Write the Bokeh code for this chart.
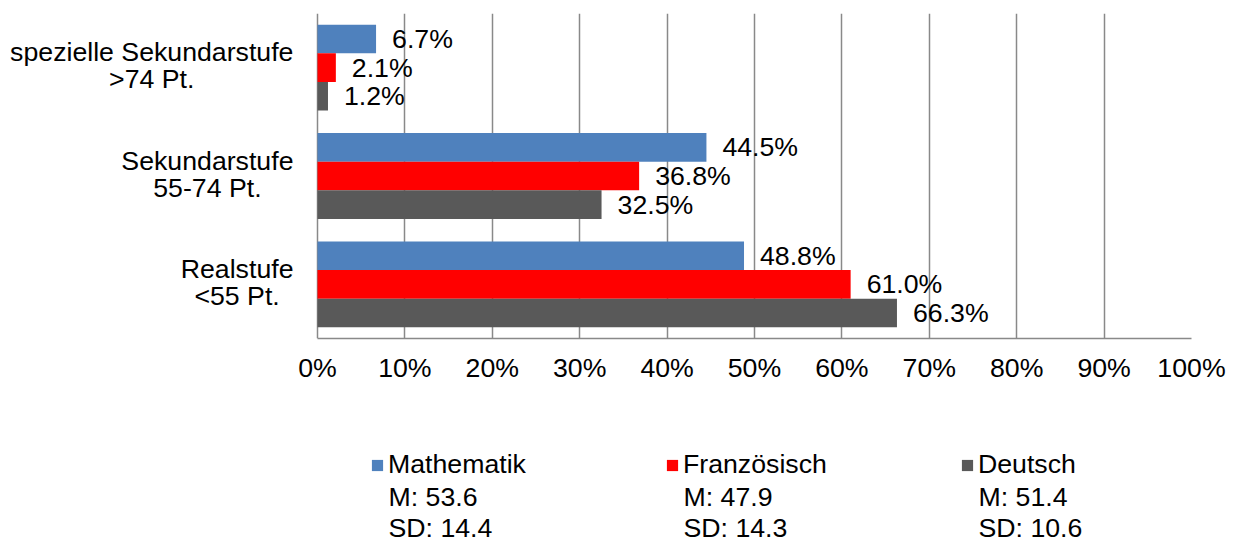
from bokeh.plotting import figure
from bokeh.models import (ColumnDataSource, FactorRange, Range1d, FixedTicker,
                          PrintfTickFormatter, Legend, LegendItem)
from bokeh.layouts import column
from bokeh.transform import dodge
from bokeh.core.properties import value
from bokeh.embed import file_html
from bokeh.resources import INLINE

# ---- data ----
categories = ["Realstufe\n<55 Pt.", "Sekundarstufe\n55-74 Pt.", "spezielle Sekundarstufe\n>74 Pt."]
series = ["Mathematik", "Französisch", "Deutsch"]
mathematik = [48.8, 44.5, 6.7]
franzoesisch = [61.0, 36.8, 2.1]
deutsch = [66.3, 32.5, 1.2]
means = [53.6, 47.9, 51.4]
sds = [14.4, 14.3, 10.6]
x_ticks = list(range(0, 101, 10))

# ---- style ----
colors = ["#4F81BD", "#FF0000", "#595959"]
FONT = "Liberation Sans"
FS_PX = 26.7
FS = "%.1fpx" % FS_PX
GRID = "#898989"

# Arial/Liberation Sans advance widths (1/1000 em) to size the category label blocks
ADV = {" ": 278, "S": 667, "e": 556, "k": 500, "u": 556, "n": 556, "d": 556, "a": 556,
       "r": 333, "s": 500, "t": 278, "f": 278, "p": 556, "z": 500, "i": 222, "l": 222,
       "R": 722, "P": 667, ">": 584, "<": 584, ".": 278, "-": 333}


def text_w(line):
    return sum(ADV.get(ch, 556) for ch in line) * FS_PX / 1000.0


W = 1240
H1, H2 = 400, 141
FRAME_L, FRAME_R, FRAME_T, FRAME_B = 317, 1191, 13, 338   # pixel frame of the 0..100 % area
x_lo = x_ticks[0] - (x_ticks[-1] - x_ticks[0]) * FRAME_L / (FRAME_R - FRAME_L)

p = figure(width=W, height=H1, output_backend="svg", toolbar_location=None,
           y_range=FactorRange(factors=categories, range_padding=0),
           x_range=Range1d(x_lo, x_ticks[-1]),
           min_border_left=0, min_border_right=W - FRAME_R, min_border_top=FRAME_T,
           min_border_bottom=H1 - FRAME_B, outline_line_color=None)

bar_h = 0.264
offsets = [bar_h, 0.0, -bar_h]
vals = [mathematik, franzoesisch, deutsch]
renderers = []
for name, v, off, c in zip(series, vals, offsets, colors):
    src = ColumnDataSource(dict(cat=categories, val=v,
                                lbl=["%.1f%%" % x for x in v]))
    r = p.hbar(y=dodge("cat", off, range=p.y_range), right="val", left=0,
               height=bar_h, source=src, fill_color=c, line_color=None)
    renderers.append(r)
    p.text(x="val", y=dodge("cat", off, range=p.y_range), text="lbl", source=src,
           x_offset=16, text_align="left", text_baseline="middle",
           text_font=value(FONT), text_font_size=value(FS), text_color="#000000")

# category labels: right-aligned block next to the 0 % line, lines centred in the block
STANDOFF = 24
cat_src = ColumnDataSource(dict(
    cat=categories,
    x0=[x_ticks[0]] * len(categories),
    xoff=[-(STANDOFF + max(text_w(l) for l in c.split("\n")) / 2.0) for c in categories],
))
p.text(x="x0", y="cat", text="cat", x_offset="xoff", y_offset=-2, source=cat_src,
       text_align="center", text_baseline="middle", text_line_height=0.9,
       text_font=value(FONT), text_font_size=value(FS), text_color="#000000")

# axes
p.yaxis.visible = False
p.xaxis.ticker = FixedTicker(ticks=x_ticks)
p.xaxis.bounds = (x_ticks[0], x_ticks[-1])
p.xaxis.formatter = PrintfTickFormatter(format="%d%%")
p.xaxis.major_tick_line_color = None
p.xaxis.minor_tick_line_color = None
p.xaxis.axis_line_color = GRID
p.xaxis.axis_line_width = 1.5
p.xaxis.major_label_text_font = FONT
p.xaxis.major_label_text_font_size = FS
p.xaxis.major_label_text_color = "#000000"
p.xaxis.major_label_standoff = 8

p.xgrid.ticker = FixedTicker(ticks=x_ticks)
p.xgrid.grid_line_color = GRID
p.xgrid.grid_line_width = 1.5
p.ygrid.grid_line_color = None

# ---- legend (own strip below the chart; pixel coordinates) ----
LEG_X0, ITEM_W, GLYPH, STANDOFF_L = 370, 295, 14, 4
lg = figure(width=W, height=H2, output_backend="svg", toolbar_location=None,
            x_range=Range1d(0, FRAME_R), y_range=Range1d(0, H2),
            x_axis_type=None, y_axis_type=None, outline_line_color=None,
            min_border_left=0, min_border_right=W - FRAME_R, min_border_top=0, min_border_bottom=0)
lg.grid.visible = False
items = []
for name, c in zip(series, colors):
    r = lg.hbar(y=[0], left=[0], right=[0], height=0, fill_color=c, line_color=None,
                visible=False)
    items.append(LegendItem(label=name, renderers=[r]))
NAME_Y = 76     # centre of the first legend line, from the strip's bottom
LINE_H = 31
legend = Legend(items=items, orientation="horizontal", location=(LEG_X0, NAME_Y - 15),
                glyph_width=GLYPH, glyph_height=GLYPH, label_standoff=STANDOFF_L,
                label_width=ITEM_W - GLYPH - STANDOFF_L, spacing=0,
                padding=0, margin=0, border_line_color=None, background_fill_alpha=0,
                inactive_fill_alpha=0,
                label_text_font=FONT, label_text_font_size=FS, label_text_color="#000000")
lg.add_layout(legend, "center")

stat_x = [LEG_X0 + i * ITEM_W + GLYPH + STANDOFF_L for i in range(len(series))]
stat_src = ColumnDataSource(dict(
    x=stat_x,
    m=["M: %.1f" % m for m in means],
    sd=["SD: %.1f" % s for s in sds],
))
lg.text(x="x", y=NAME_Y - LINE_H, text="m", source=stat_src, text_align="left",
        text_baseline="middle", text_font=value(FONT), text_font_size=value(FS),
        text_color="#000000")
lg.text(x="x", y=NAME_Y - 2 * LINE_H, text="sd", source=stat_src, text_align="left",
        text_baseline="middle", text_font=value(FONT), text_font_size=value(FS),
        text_color="#000000")

layout = column(p, lg, spacing=0)
open("out.html", "w").write(file_html(layout, INLINE))
